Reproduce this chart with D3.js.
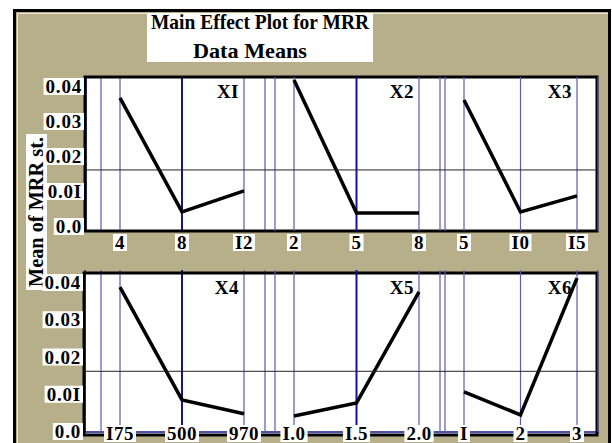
<!DOCTYPE html>
<html>
<head>
<meta charset="utf-8">
<script src="https://cdn.jsdelivr.net/npm/d3@7"></script>
<style>
  body { margin: 0; background: #fff; }
</style>
</head>
<body>
<div id="chart"></div>
<script>
// Values
const factors = ["XI", "X2", "X3", "X4", "X5", "X6"];
const levels = [
  ["4", "8", "I2"],
  ["2", "5", "8"],
  ["5", "I0", "I5"],
  ["I75", "500", "970"],
  ["I.0", "I.5", "2.0"],
  ["I", "2", "3"]
];
const means = [
  [0.0369, 0.0043, 0.0103],
  [0.0420, 0.0040, 0.0040],
  [0.0363, 0.0043, 0.0089],
  [0.0389, 0.0086, 0.0049],
  [0.0043, 0.0078, 0.0376],
  [0.0108, 0.0046, 0.0413]
];
const grandMean = 0.0163;
const yTicks = [0, 0.01, 0.02, 0.03, 0.04];
const yTickLabels = ["0.0", "0.0I", "0.02", "0.03", "0.04"];

// Layout
const width = 612;
const height = 443;
const font = "'Liberation Serif', 'Times New Roman', serif";
const khaki = "#b7af89";
const navy = "#14148c";
const blue = "#5a5ab4";

// columns of panels (left/right edges) and rows (frame + y range)
const cols = [[101, 265], [275, 440], [445, 598]];
const rows = [
  {top: 77, bottom: 231, left: 85, zero: 227, max: 87, labelY: 249},
  {top: 273, bottom: 435, left: 84, zero: 432, max: 283, labelY: 440}
];

const svg = d3.select("#chart")
  .append("svg")
    .attr("width", width)
    .attr("height", height)
    .attr("viewBox", [0, 0, width, height])
    .style("font-family", font)
    .style("font-weight", "bold");

// outer frame
svg.append("rect")
  .attr("x", 14.5).attr("y", 10.5)
  .attr("width", 595).attr("height", 445)
  .attr("fill", khaki)
  .attr("stroke", "#000").attr("stroke-width", 3);
svg.append("path")
  .attr("d", "M17.5,460V13.5H608")
  .attr("fill", "none").attr("stroke", "#e8e6da").attr("stroke-width", 1);

// white box behind a text selection
function boxed(textSel, pad) {
  textSel.each(function() {
    const b = this.getBBox();
    d3.select(this.parentNode).insert("rect", () => this)
      .attr("x", b.x - pad).attr("y", b.y + 2)
      .attr("width", b.width + 2 * pad).attr("height", b.height - 4)
      .attr("fill", "#fff");
  });
}

// title
svg.append("rect")
  .attr("x", 147).attr("y", 13).attr("width", 226).attr("height", 49)
  .attr("fill", "#fff");
svg.append("text")
  .attr("x", 260).attr("y", 29)
  .attr("text-anchor", "middle")
  .attr("font-size", 21)
  .attr("textLength", 218).attr("lengthAdjust", "spacingAndGlyphs")
  .text("Main Effect Plot for MRR");
svg.append("text")
  .attr("x", 250).attr("y", 58)
  .attr("text-anchor", "middle")
  .attr("font-size", 21)
  .attr("textLength", 114).attr("lengthAdjust", "spacingAndGlyphs")
  .text("Data Means");

// y-axis title
const yTitle = svg.append("g").attr("transform", "translate(43,212) rotate(-90)");
yTitle.append("rect")
  .attr("x", -78).attr("y", -17).attr("width", 156).attr("height", 21)
  .attr("fill", "#fff");
yTitle.append("text")
  .attr("text-anchor", "middle")
  .attr("font-size", 22)
  .attr("textLength", 150).attr("lengthAdjust", "spacingAndGlyphs")
  .text("Mean of MRR st.");

rows.forEach((r, ri) => {
  const y = d3.scaleLinear().domain([0, 0.04]).range([r.zero, r.max]);
  const right = 597;
  const g = svg.append("g");

  // panel background
  g.append("rect")
    .attr("x", r.left).attr("y", r.top)
    .attr("width", right - r.left).attr("height", r.bottom - r.top)
    .attr("fill", "#fff");

  const lineTop = ri === 0 ? r.top : r.top - 3;
  const lineBot = ri === 0 ? r.bottom : r.bottom - 3;

  // left edge navy line
  g.append("line")
    .attr("x1", r.left + 1).attr("x2", r.left + 1)
    .attr("y1", lineTop).attr("y2", lineBot)
    .attr("stroke", navy).attr("stroke-width", 1.5);

  // bottom blue line for the lower row
  if (ri === 1) {
    g.append("line")
      .attr("x1", r.left).attr("x2", right + 2)
      .attr("y1", lineBot).attr("y2", lineBot)
      .attr("stroke", navy).attr("stroke-width", 1.5);
  }

  cols.forEach((c, ci) => {
    const k = ri * 3 + ci;
    const x = d3.scalePoint().domain(levels[k]).range([c[0] + 19, c[1] - 21]);

    // column edges
    g.selectAll(null)
      .data(c)
      .join("line")
      .attr("x1", d => d).attr("x2", d => d)
      .attr("y1", lineTop).attr("y2", lineBot)
      .attr("stroke", blue).attr("stroke-width", 1.2);

    // level grid lines
    g.selectAll(null)
      .data(levels[k])
      .join("line")
      .attr("x1", d => x(d)).attr("x2", d => x(d))
      .attr("y1", lineTop).attr("y2", lineBot)
      .attr("stroke", (d, i) => i === 1 && ci < 2 ? navy : blue)
      .attr("stroke-width", (d, i) => i === 1 && ci < 2 ? 2 : 1.2);

    // factor name
    g.append("text")
      .attr("x", x(levels[k][2]) - 5)
      .attr("y", r.top + 21)
      .attr("text-anchor", "end")
      .attr("font-size", 19)
      .attr("letter-spacing", 0.5)
      .text(factors[k]);

    // data line
    g.append("path")
      .datum(levels[k].map((l, i) => [l, means[k][i]]))
      .attr("fill", "none")
      .attr("stroke", "#000")
      .attr("stroke-width", 3.5)
      .attr("d", d3.line().x(d => x(d[0])).y(d => y(d[1])));

    // level labels
    const lbl = g.append("g").selectAll("text")
      .data(levels[k])
      .join("text")
      .attr("x", d => x(d))
      .attr("y", r.labelY)
      .attr("text-anchor", "middle")
      .attr("font-size", 19)
      .attr("letter-spacing", 0.5)
      .text(d => d);
    boxed(lbl, 2);
  });

  // grand mean reference line
  g.append("line")
    .attr("x1", r.left).attr("x2", right)
    .attr("y1", y(grandMean)).attr("y2", y(grandMean))
    .attr("stroke", "#222").attr("stroke-width", 1);

  // frame
  g.insert("rect", "g")
    .attr("x", r.left).attr("y", r.top)
    .attr("width", right - r.left).attr("height", r.bottom - r.top)
    .attr("fill", "none")
    .attr("stroke", "#000").attr("stroke-width", 3);

  // y tick labels
  const yl = g.append("g").selectAll("text")
    .data(yTicks)
    .join("text")
    .attr("x", r.left - 3)
    .attr("y", d => y(d) + 6)
    .attr("text-anchor", "end")
    .attr("font-size", 19)
    .attr("letter-spacing", 0.8)
    .text((d, i) => yTickLabels[i]);
  boxed(yl, 2);
});
</script>
</body>
</html>
